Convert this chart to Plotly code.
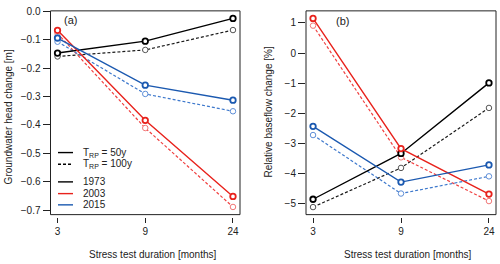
import plotly.graph_objects as go

# ---- data ----
durations = ["3", "9", "24"]
years = ["1973", "2003", "2015"]

# (a) Groundwater head change [m]
head_50 = {
    "1973": [-0.147, -0.105, -0.025],
    "2003": [-0.067, -0.384, -0.652],
    "2015": [-0.094, -0.260, -0.313],
}
head_100 = {
    "1973": [-0.159, -0.136, -0.066],
    "2003": [-0.078, -0.411, -0.689],
    "2015": [-0.107, -0.291, -0.352],
}
# (b) Relative baseflow change [%]
base_50 = {
    "1973": [-4.85, -3.33, -0.99],
    "2003": [1.15, -3.17, -4.68],
    "2015": [-2.43, -4.28, -3.71],
}
base_100 = {
    "1973": [-5.11, -3.81, -1.82],
    "2003": [0.91, -3.46, -4.91],
    "2015": [-2.72, -4.66, -4.09],
}
yticks_a = [0.0, -0.1, -0.2, -0.3, -0.4, -0.5, -0.6, -0.7]
yticks_b = [1, 0, -1, -2, -3, -4, -5]

# ---- styles ----
col50 = {"1973": "#000000", "2003": "#e8221c", "2015": "#1b59b0"}
col100 = {"1973": "#1a1a1a", "2003": "#f04040", "2015": "#3d78cc"}
mk100 = {"1973": "#555555", "2003": "#f27777", "2015": "#5f8fd8"}

FONT = "Liberation Sans, Arial, sans-serif"
W, H = 500, 264

def px(x):
    return x / W

def py(y):
    return 1 - y / H

fig = go.Figure()

def add_series(data, xa, ya, dashed):
    for yr in years:
        if dashed:
            line = dict(color=col100[yr], width=1.2, dash="3px,2px")
            marker = dict(symbol="circle", size=5.5, color="white",
                          line=dict(color=mk100[yr], width=1))
        else:
            line = dict(color=col50[yr], width=1.4)
            marker = dict(symbol="circle", size=5.5, color="white",
                          line=dict(color=col50[yr], width=1.8))
        fig.add_trace(go.Scatter(x=durations, y=data[yr], mode="lines+markers",
                                 line=line, marker=marker, xaxis=xa, yaxis=ya,
                                 showlegend=False, hoverinfo="skip"))

add_series(head_100, "x", "y", True)
add_series(head_50, "x", "y", False)
add_series(base_100, "x2", "y2", True)
add_series(base_50, "x2", "y2", False)

ydom = [py(214.5), py(6)]
xaxis_common = dict(type="category", ticks="outside", ticklen=5, tickwidth=1,
                    tickcolor="#222", showgrid=False, zeroline=False, showline=False,
                    anchor="free", position=py(217), range=[-0.08, 2.08],
                    tickfont=dict(family=FONT, size=10, color="#222"))
yaxis_common = dict(ticks="outside", ticklen=7, tickwidth=1, tickcolor="#222",
                    showgrid=False, zeroline=False, showline=False,
                    tickfont=dict(family=FONT, size=10, color="#222"), domain=ydom)

fig.update_layout(
    width=W, height=H, margin=dict(l=0, r=0, t=0, b=0),
    paper_bgcolor="white", plot_bgcolor="white",
    xaxis=dict(domain=[px(50.5), px(240)], **xaxis_common),
    xaxis2=dict(domain=[px(306), px(496)], **xaxis_common),
    yaxis=dict(anchor="x", range=[-0.716, 0.0016], tickvals=yticks_a,
               ticktext=[f"{v:.1f}".replace("-", "\u2212") for v in yticks_a], **yaxis_common),
    yaxis2=dict(anchor="x2", range=[-5.36, 1.40], tickvals=yticks_b,
                ticktext=[str(v).replace("-", "\u2212") for v in yticks_b], **yaxis_common),
    showlegend=False,
)

# panel boxes
for xr, yr in [("x domain", "y domain"), ("x2 domain", "y2 domain")]:
    fig.add_shape(type="rect", xref=xr, yref=yr, x0=0, x1=1, y0=0, y1=1,
                  line=dict(color="#222", width=1), fillcolor="rgba(0,0,0,0)")

def ann(text, x, y, size=10, angle=0, xanchor="center"):
    fig.add_annotation(text=text, x=px(x), y=py(y), xref="paper", yref="paper",
                       showarrow=False, textangle=angle, xanchor=xanchor, yanchor="middle",
                       font=dict(family=FONT, size=size, color="#222"))

ann("Stress test duration [months]", 152.5, 255)
ann("Stress test duration [months]", 408, 255)
ann("Groundwater head change [m]", 8, 115, angle=-90)
ann("Relative baseflow change [%]", 268, 110, angle=-90)
ann("(a)", 70, 15, size=11)
ann("(b)", 342, 16, size=11)

# legend (panel a)
legend_rows = [
    ("T<sub>RP</sub> = 50y", "#000000", "solid", 151),
    ("T<sub>RP</sub> = 100y", "#000000", "3px,2px", 163),
    ("1973", col50["1973"], "solid", 181),
    ("2003", col50["2003"], "solid", 193),
    ("2015", col50["2015"], "solid", 204.5),
]
for label, c, d, yy in legend_rows:
    fig.add_shape(type="line", xref="paper", yref="paper", x0=px(58), x1=px(73),
                  y0=py(yy), y1=py(yy), line=dict(color=c, width=1.4, dash=d))
    ann(label, 81, yy, xanchor="left")

fig.write_html("out.html", config={"displayModeBar": False},
               post_script="document.body.style.margin='0';document.body.style.overflow='hidden';")
